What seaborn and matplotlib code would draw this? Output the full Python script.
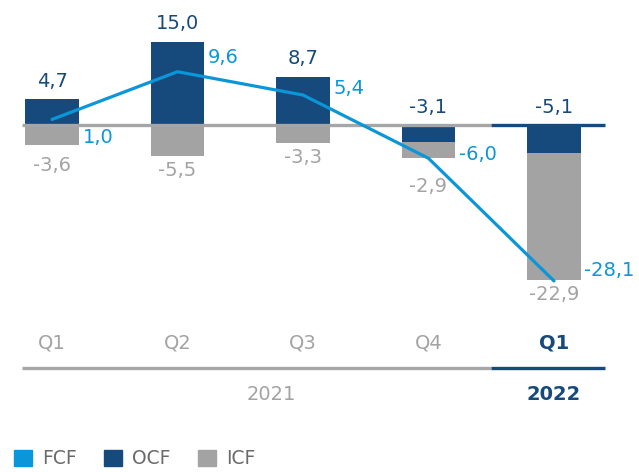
import numpy as np
import pandas as pd
import matplotlib
matplotlib.use("Agg")
import matplotlib.pyplot as plt
import matplotlib.transforms as mtransforms
from matplotlib.patches import Patch
import seaborn as sns

# ---- data ----
quarters = ["Q1", "Q2", "Q3", "Q4", "Q1"]
years = ["2021", "2021", "2021", "2021", "2022"]
ocf = [4.7, 15.0, 8.7, -3.1, -5.1]
icf = [-3.6, -5.5, -3.3, -2.9, -22.9]
fcf = [1.0, 9.6, 5.4, -6.0, -28.1]
year_labels = ["2021", "2022"]
legend_labels = ["FCF", "OCF", "ICF"]

# ---- style ----
DARK = "#174A7C"
LIGHT = "#0A96D8"
GRAY = "#A3A3A3"
LEG_TXT = "#6A6A6A"

sns.set_theme(style="white")
plt.rcParams["font.family"] = ["DejaVu Sans"]

fig = plt.figure(figsize=(6.39, 4.72), dpi=100)
ax = fig.add_axes([0, 0, 1, 1])

df = pd.DataFrame({
    "period": [f"{q} {y}" for q, y in zip(quarters, years)],
    "ocf": ocf, "icf": icf, "fcf": fcf,
})
df["base"] = np.minimum(df["ocf"], 0)
df["x"] = np.arange(len(df))
BW = 0.43

sns.barplot(data=df, x="period", y="ocf", color=DARK, saturation=1,
            width=BW, errorbar=None, ax=ax, zorder=2, linewidth=0)
sns.barplot(data=df, x="period", y="icf", bottom=df["base"].values,
            color=GRAY, saturation=1, width=BW, errorbar=None, ax=ax,
            zorder=2, linewidth=0)
sns.lineplot(data=df, x="x", y="fcf", color=LIGHT, lw=2.3, ax=ax, zorder=4)

# zero line, split between years
split = 3.5
x_left, x_right = -0.24, 4.41
ax.hlines(0, x_left, split, color="#A6A6A6", lw=2.4, zorder=3)
ax.hlines(0, split, x_right, color=DARK, lw=2.4, zorder=3)

# limits: ~5.55 px per unit, zero at y=125px
k = 5.55
ax.set_xlim(-52 / 125.5, -52 / 125.5 + 639 / 125.5)
ax.set_ylim((125 - 472) / k, 125 / k)
ax.axis("off")

fmt = lambda v: f"{v:.1f}".replace(".", ",")
FS = 14
fcf_dy = [-13.3, 10.0, 4.5, 3.0, 7.6]
icf_dy = [-14.5, -10.5, -10.0, -20.0, -10.5]
for i in range(len(df)):
    top = max(ocf[i], 0)
    ax.annotate(fmt(ocf[i]), (i, top), xytext=(0, 12.8), textcoords="offset points",
                ha="center", va="center", color=DARK, fontsize=FS, zorder=5)
    bot = df["base"][i] + icf[i]
    ax.annotate(fmt(icf[i]), (i, bot), xytext=(0, icf_dy[i]), textcoords="offset points",
                ha="center", va="center", color=GRAY, fontsize=FS, zorder=5)
    ax.annotate(fmt(fcf[i]), (i + BW / 2, fcf[i]), xytext=(2.5, fcf_dy[i]),
                textcoords="offset points", ha="left", va="center", color=LIGHT,
                fontsize=FS, zorder=5)

trans = mtransforms.blended_transform_factory(ax.transData, ax.transAxes)
for i, q in enumerate(quarters):
    is_new = years[i] == "2022"
    ax.text(i, 1 - 343 / 472, q, transform=trans, ha="center", va="center",
            fontsize=FS, color=DARK if is_new else GRAY,
            fontweight="bold" if is_new else "normal")

# separator
sep_y = 1 - 368 / 472
ax.plot([x_left, split], [sep_y, sep_y], transform=trans, color="#A6A6A6", lw=2.4,
        solid_capstyle="butt")
ax.plot([split, x_right], [sep_y, sep_y], transform=trans, color=DARK, lw=2.4,
        solid_capstyle="butt")

ax.text(1.745, 1 - 395 / 472, year_labels[0], transform=trans, ha="center",
        va="center", fontsize=FS, color=GRAY)
ax.text(4, 1 - 395 / 472, year_labels[1], transform=trans, ha="center",
        va="center", fontsize=FS, color=DARK, fontweight="bold")

handles = [Patch(color=c) for c in (LIGHT, DARK, GRAY)]
leg = ax.legend(handles, legend_labels, loc="lower left", bbox_to_anchor=(0.016, 0.0),
                ncol=3, frameon=False, fontsize=13.5, handlelength=0.95,
                handleheight=0.95, handletextpad=0.55, columnspacing=1.45,
                borderpad=0.2, borderaxespad=0)
for t in leg.get_texts():
    t.set_color(LEG_TXT)

fig.savefig("out.png", dpi=100)
